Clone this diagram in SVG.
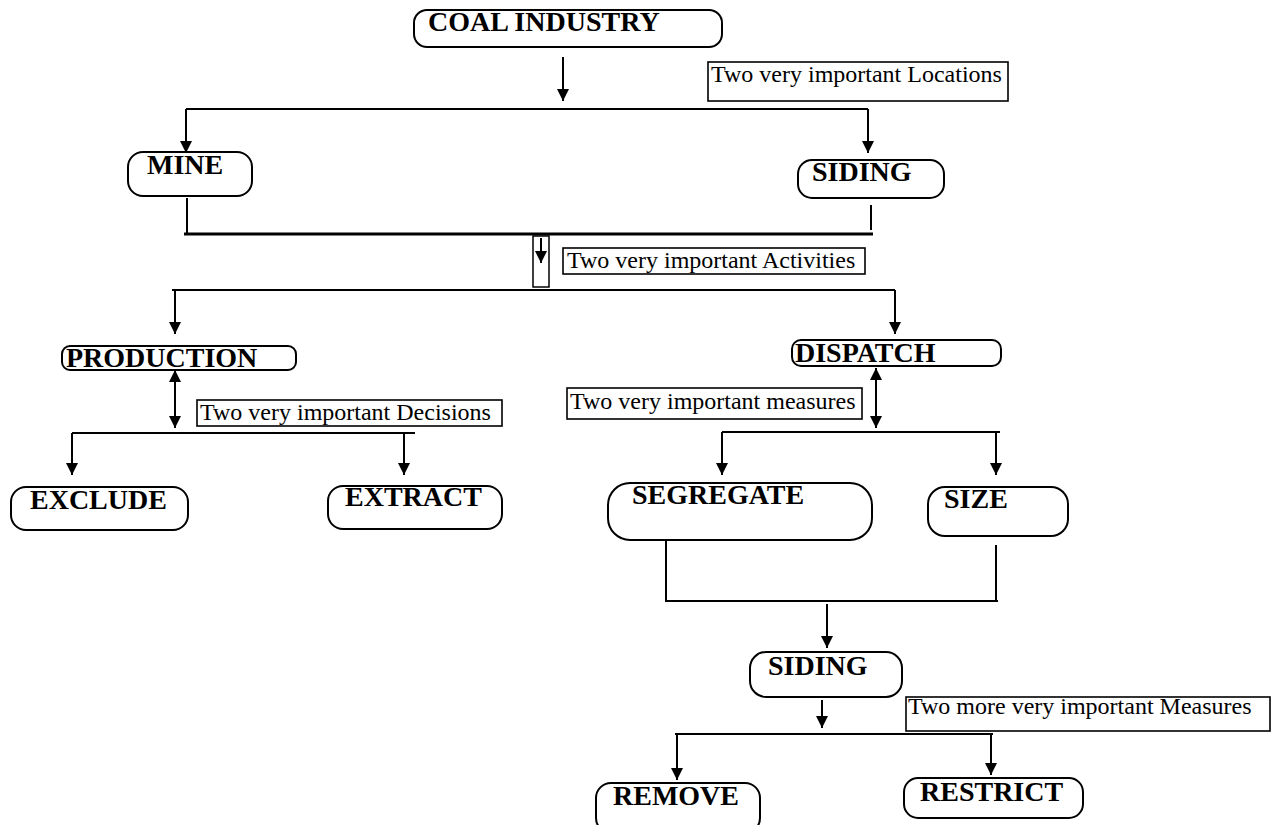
<svg xmlns="http://www.w3.org/2000/svg" width="1272" height="825" viewBox="0 0 1272 825">
<style>
.node{fill:#fff;stroke:#000;stroke-width:2}
.nt{font-family:"Liberation Serif",serif;font-weight:bold;font-size:28px;fill:#000}
.lb{fill:#fff;stroke:#000;stroke-width:1.6}
.lt{font-family:"Liberation Serif",serif;font-size:24px;fill:#000}
.c{stroke:#000;stroke-width:2;fill:none}
.a{stroke:#000;stroke-width:2;fill:none;marker-end:url(#ah)}
.d{stroke:#000;stroke-width:2;fill:none;marker-end:url(#ah);marker-start:url(#ahs)}
</style>
<defs>
<marker id="ah" markerUnits="userSpaceOnUse" markerWidth="12" markerHeight="14" refX="10" refY="5" orient="auto" viewBox="0 0 10 10">
<path d="M0,0 L10,5 L0,10 z" fill="#000"/>
</marker>
<marker id="ahs" markerUnits="userSpaceOnUse" markerWidth="12" markerHeight="14" refX="0" refY="5" orient="auto" viewBox="0 0 10 10">
<path d="M10,0 L0,5 L10,10 z" fill="#000"/>
</marker>
</defs>
<rect width="1272" height="825" fill="#fff"/>

<g id="connectors">
<line class="a" x1="563" y1="57" x2="563" y2="101"/>
<line class="c" x1="186" y1="109" x2="868" y2="109"/>
<line class="a" x1="186" y1="109" x2="186" y2="153"/>
<line class="a" x1="868" y1="109" x2="868" y2="153"/>
<line class="c" x1="187" y1="198" x2="187" y2="234"/>
<line class="c" x1="871" y1="205" x2="871" y2="230"/>
<line stroke="#000" stroke-width="3" x1="184" y1="234" x2="873" y2="234"/>
<rect x="533" y="236" width="16" height="51" fill="none" stroke="#000" stroke-width="1.5"/>
<line class="a" x1="541" y1="238" x2="541" y2="263"/>
<line class="c" x1="172" y1="290" x2="895" y2="290"/>
<line class="a" x1="175" y1="290" x2="175" y2="334"/>
<line class="a" x1="895" y1="290" x2="895" y2="334"/>
<line class="d" x1="175" y1="370" x2="175" y2="428"/>
<line class="c" x1="72" y1="433" x2="415" y2="433"/>
<line class="a" x1="72" y1="433" x2="72" y2="475"/>
<line class="a" x1="404" y1="433" x2="404" y2="475"/>
<line class="d" x1="876" y1="368" x2="876" y2="428"/>
<line class="c" x1="722" y1="432" x2="1000" y2="432"/>
<line class="a" x1="722" y1="432" x2="722" y2="475"/>
<line class="a" x1="996" y1="432" x2="996" y2="475"/>
<line class="c" x1="666" y1="540" x2="666" y2="601"/>
<line class="c" x1="996" y1="545" x2="996" y2="601"/>
<line class="c" x1="665" y1="601" x2="998" y2="601"/>
<line class="a" x1="827" y1="604" x2="827" y2="648"/>
<line class="a" x1="822" y1="700" x2="822" y2="728"/>
<line class="c" x1="675" y1="734" x2="993" y2="734"/>
<line class="a" x1="677" y1="734" x2="677" y2="780"/>
<line class="a" x1="991" y1="734" x2="991" y2="775"/>
</g>

<g id="labels">
<g id="lbl-locations"><rect class="lb" x="708" y="62" width="300" height="39"/><text class="lt" x="711" y="82">Two very important Locations</text></g>
<g id="lbl-activities"><rect class="lb" x="563" y="248" width="302" height="26"/><text class="lt" x="567" y="268">Two very important Activities</text></g>
<g id="lbl-decisions"><rect class="lb" x="197" y="400" width="305" height="26"/><text class="lt" x="200" y="420">Two very important Decisions</text></g>
<g id="lbl-measures"><rect class="lb" x="567" y="388" width="295" height="31"/><text class="lt" x="570" y="409">Two very important measures</text></g>
<g id="lbl-measures2"><rect class="lb" x="906" y="697" width="364" height="34"/><text class="lt" x="908" y="714">Two more very important Measures</text></g>
</g>

<g id="n-coal"><rect class="node" x="414" y="10" width="308" height="37" rx="13"/><text class="nt" x="428" y="31">COAL INDUSTRY</text></g>
<g id="n-mine"><rect class="node" x="128" y="152" width="124" height="44" rx="15"/><text class="nt" x="147" y="174">MINE</text></g>
<g id="n-siding1"><rect class="node" x="798" y="160" width="146" height="38" rx="14"/><text class="nt" x="812" y="181">SIDING</text></g>
<g id="n-production"><rect class="node" x="62" y="346" width="234" height="24" rx="8"/><text class="nt" x="66" y="367">PRODUCTION</text></g>
<g id="n-dispatch"><rect class="node" x="792" y="340" width="209" height="26" rx="9"/><text class="nt" x="795" y="362">DISPATCH</text></g>
<g id="n-exclude"><rect class="node" x="11" y="487" width="177" height="43" rx="15"/><text class="nt" x="30" y="509">EXCLUDE</text></g>
<g id="n-extract"><rect class="node" x="328" y="486" width="174" height="43" rx="15"/><text class="nt" x="345" y="506">EXTRACT</text></g>
<g id="n-segregate"><rect class="node" x="608" y="483" width="264" height="57" rx="22"/><text class="nt" x="632" y="504">SEGREGATE</text></g>
<g id="n-size"><rect class="node" x="928" y="487" width="140" height="49" rx="17"/><text class="nt" x="944" y="508">SIZE</text></g>
<g id="n-siding2"><rect class="node" x="750" y="652" width="152" height="45" rx="16"/><text class="nt" x="768" y="675">SIDING</text></g>
<g id="n-remove"><rect class="node" x="596" y="783" width="164" height="50" rx="15"/><text class="nt" x="613" y="805">REMOVE</text></g>
<g id="n-restrict"><rect class="node" x="904" y="778" width="179" height="40" rx="14"/><text class="nt" x="920" y="801">RESTRICT</text></g>
</svg>
